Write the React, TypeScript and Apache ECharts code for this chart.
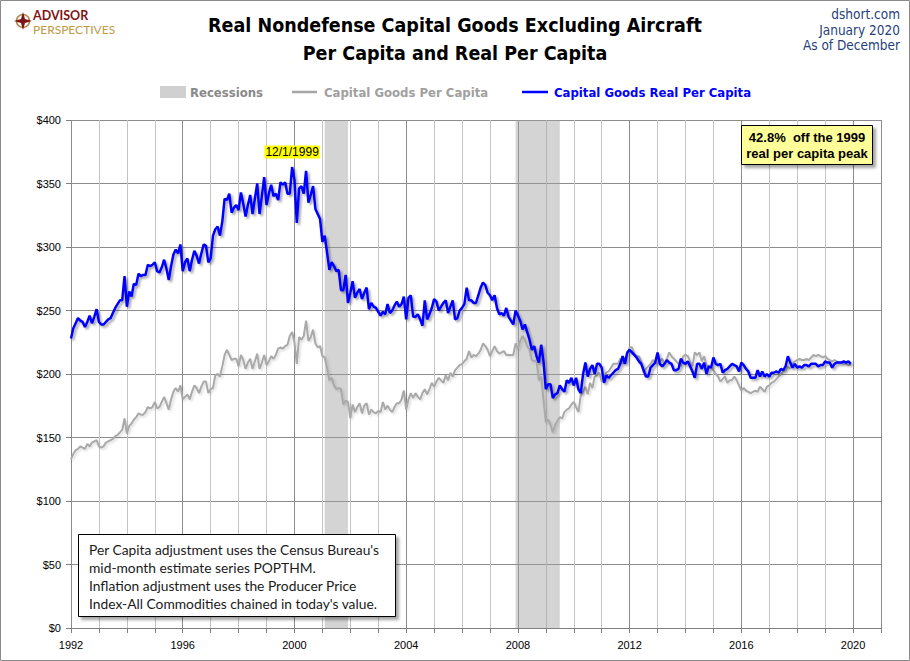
import React, { useEffect, useRef } from "react";
import * as echarts from "echarts";

const startYear = 1992;

// Capital Goods Real Per Capita (monthly, Jan 1992 - Dec 2019)
const realPerCapita = [
  228, 236, 240, 244, 242, 241, 237, 241, 246, 240, 245, 251,
  241, 239, 239, 241, 243, 244, 248, 252, 255, 258, 258, 277,
  253, 265, 261, 271, 270, 279, 277, 278, 278, 286, 285, 286,
  288, 281, 280, 284, 290, 283, 274, 285, 294, 298, 295, 302,
  281, 288, 291, 281, 290, 297, 293, 287, 295, 302, 301, 288,
  291, 309, 314, 316, 309, 320, 338, 337, 342, 327, 331, 333,
  329, 343, 334, 324, 333, 341, 326, 338, 350, 326, 340, 355,
  333, 342, 349, 340, 342, 337, 351, 349, 351, 342, 342, 363,
  353, 319, 346, 348, 342, 360, 335, 341, 348, 330, 326, 322,
  304, 309, 296, 282, 288, 285, 281, 282, 266, 266, 278, 256,
  264, 273, 260, 264, 267, 259, 264, 268, 251, 256, 253, 252,
  249, 246, 249, 247, 255, 248, 250, 254, 257, 253, 255, 261,
  243, 260, 262, 245, 245, 247, 243, 238, 258, 243, 247, 252,
  259, 257, 250, 253, 256, 258, 248, 253, 258, 243, 244, 250,
  252, 255, 268, 258, 258, 256, 256, 262, 268, 272, 270, 264,
  262, 258, 262, 252, 247, 248, 246, 252, 245, 242, 239, 250,
  246, 242, 235, 239, 233, 227, 219, 222, 214, 209, 223, 210,
  188, 192, 192, 181, 184, 185, 191, 188, 186, 195, 193, 197,
  191, 197, 188, 185, 200, 209, 198, 204, 207, 200, 208, 208,
  205, 193, 199, 197, 199, 201, 203, 204, 208, 214, 208, 217,
  219, 217, 215, 213, 210, 208, 203, 198, 198, 205, 207, 209,
  217, 208, 206, 208, 211, 209, 208, 203, 203, 204, 212, 209,
  208, 210, 206, 202, 197, 208, 208, 204, 209, 200, 206, 205,
  213, 208, 207, 208, 201, 203, 204, 206, 208, 207, 206, 202,
  209, 207, 204, 202, 197, 197, 197, 203, 198, 202, 198, 200,
  198, 201, 201, 202, 201, 204, 203, 206, 214, 209, 205, 208,
  205, 206, 205, 207, 207, 206, 208, 208, 208, 206, 207, 207,
  210, 209, 209, 205, 208, 209, 209, 209, 210, 209, 210, 208,
];

// Capital Goods Per Capita (nominal, monthly, Jan 1992 - Dec 2019)
const nominalPerCapita = [
  133, 137, 140, 141, 143, 142, 141, 145, 143, 146, 147, 148,
  143, 142, 143, 146, 147, 148, 149, 151, 152, 154, 156, 165,
  153, 159, 161, 164, 166, 169, 168, 168, 170, 174, 173, 174,
  178, 173, 174, 178, 182, 177, 172, 180, 186, 189, 186, 191,
  180, 182, 184, 180, 186, 191, 189, 185, 190, 194, 194, 185,
  188, 189, 199, 200, 198, 206, 215, 219, 215, 211, 212, 212,
  206, 215, 211, 204, 209, 212, 204, 210, 216, 204, 209, 215,
  207, 210, 214, 212, 215, 220, 221, 220, 222, 223, 230, 233,
  225, 208, 229, 227, 230, 242, 226, 229, 235, 224, 221, 222,
  214, 213, 205, 195, 197, 191, 188, 189, 188, 176, 179, 178,
  165, 176, 170, 174, 177, 169, 175, 177, 168, 172, 170, 169,
  171, 170, 178, 172, 175, 172, 170, 174, 177, 177, 180, 187,
  172, 180, 185, 181, 185, 182, 180, 185, 188, 184, 188, 193,
  190, 194, 197, 195, 193, 199, 195, 201, 198, 203, 205, 207,
  208, 210, 212, 218, 213, 215, 214, 216, 219, 224, 222, 219,
  214, 218, 222, 218, 216, 217, 218, 215, 215, 215, 215, 224,
  220, 226, 230, 227, 222, 219, 211, 210, 211, 195, 198, 180,
  162, 164, 160, 154, 160, 163, 166, 165, 170, 172, 173, 176,
  178, 174, 170, 183, 186, 190, 184, 193, 189, 198, 199, 201,
  194, 198, 201, 202, 205, 208, 208, 208, 212, 208, 212, 216,
  221, 221, 216, 214, 214, 210, 201, 204, 206, 208, 211, 209,
  208, 210, 212, 208, 212, 217, 214, 212, 210, 208, 206, 214,
  215, 214, 210, 206, 217, 215, 217, 210, 214, 207, 206, 205,
  203, 200, 198, 194, 196, 198, 193, 195, 195, 198, 195, 191,
  187, 189, 187, 186, 185, 186, 187, 186, 190, 188, 186, 190,
  191, 193, 194, 196, 198, 200, 202, 203, 206, 204, 208, 210,
  211, 212, 211, 211, 212, 211, 213, 215, 214, 215, 214, 213,
  214, 212, 211, 210, 211, 210, 209, 209, 208, 208, 207, 207,
];

// Recession periods (decimal years)
const recessionStarts = [2001.083, 2007.917];
const recessionEnds = [2001.917, 2009.5];

const titleLines = [
  "Real Nondefense Capital Goods Excluding Aircraft",
  "Per Capita and Real Per Capita",
];
const sourceLines = ["dshort.com", "January 2020", "As of December"];
const legendNames = ["Recessions", "Capital Goods Per Capita", "Capital Goods Real Per Capita"];
const peakIndex = 95;
const peakLabel = "12/1/1999";
const offPeakLines = ["42.8%  off the 1999", "real per capita peak"];
const noteLines = [
  "Per Capita adjustment uses the Census Bureau's",
  "mid-month estimate series POPTHM.",
  "Inflation adjustment uses the Producer Price",
  "Index-All Commodities chained in today's value.",
];

const NARROW = '"Liberation Sans Narrow", "DejaVu Sans Condensed", "Arial Narrow", sans-serif';
const ARIAL = '"Liberation Sans", Arial, sans-serif';

function txt(text: string, x: number, y: number, font: string, fill: string, align = "left", extra: any = {}) {
  return {
    type: "text",
    x,
    y,
    silent: true,
    style: {
      text,
      font,
      fill,
      align,
      textAlign: align,
      verticalAlign: "middle",
      textVerticalAlign: "middle",
      ...extra,
    },
  };
}

export default function App() {
  const ref = useRef<HTMLDivElement>(null);

  useEffect(() => {
    document.body.style.margin = "0";
    const chart = echarts.init(ref.current!, null, { renderer: "svg" });

    const toX = (i: number) => startYear + i / 12;
    const realData = realPerCapita.map((v, i) => [toX(i), v]);
    const nominalData = nominalPerCapita.map((v, i) => [toX(i), v]);

    const graphics: any[] = [];
    // outer frame
    graphics.push({
      type: "rect",
      silent: true,
      shape: { x: 0.5, y: 0.5, width: 909, height: 660 },
      style: { fill: "none", stroke: "#8a8a8a", lineWidth: 1 },
    });
    // logo
    graphics.push({
      type: "circle",
      silent: true,
      shape: { cx: 23, cy: 21, r: 6.5 },
      style: { fill: "none", stroke: "#b08a4a", lineWidth: 1.5 },
    });
    graphics.push({
      type: "polygon",
      silent: true,
      shape: {
        points: [
          [23, 12], [25, 19], [32, 21], [25, 23], [23, 30], [21, 23], [14, 21], [21, 19],
        ],
      },
      style: { fill: "#7f1416" },
    });
    graphics.push(txt("ADVISOR", 33, 15, "bold 12.5px Lato", "#7f1416"));
    graphics.push(txt("PERSPECTIVES", 33, 29.5, "12px Lato", "#c09a45"));
    // title
    graphics.push(txt(titleLines[0], 455, 25, "bold 19.5px " + NARROW, "#000", "center"));
    graphics.push(txt(titleLines[1], 455, 53, "bold 19.5px " + NARROW, "#000", "center"));
    // source
    sourceLines.forEach((s, i) => {
      graphics.push(txt(s, 900, 14 + i * 15.5, "13.5px " + NARROW, "#1f3f7a", "right"));
    });
    // legend
    graphics.push({
      type: "rect",
      silent: true,
      shape: { x: 160, y: 86, width: 26, height: 12 },
      style: { fill: "#d0d0d0" },
    });
    graphics.push(txt(legendNames[0], 190, 92, "bold 13px " + NARROW, "#8a8a8a"));
    graphics.push({
      type: "line",
      silent: true,
      shape: { x1: 292, y1: 92, x2: 317, y2: 92 },
      style: { stroke: "#a6a6a6", lineWidth: 2.5 },
    });
    graphics.push(txt(legendNames[1], 324, 92, "bold 13px " + NARROW, "#a0a0a0"));
    graphics.push({
      type: "line",
      silent: true,
      shape: { x1: 522, y1: 92, x2: 548, y2: 92 },
      style: { stroke: "#0000ff", lineWidth: 2.5 },
    });
    graphics.push(txt(legendNames[2], 554, 92, "bold 13px " + NARROW, "#0000ff"));
    // off-peak box
    graphics.push({
      type: "rect",
      silent: true,
      z: 100,
      shape: { x: 741.5, y: 125.5, width: 131, height: 39 },
      style: {
        fill: "#ffff99",
        stroke: "#000",
        lineWidth: 1,
        shadowColor: "rgba(0,0,0,0.35)",
        shadowBlur: 3,
        shadowOffsetX: 3,
        shadowOffsetY: 3,
      },
    });
    graphics.push({ ...txt(offPeakLines[0], 807, 137, "bold 13px " + ARIAL, "#000", "center"), z: 101 });
    graphics.push({ ...txt(offPeakLines[1], 807, 153, "bold 13px " + ARIAL, "#000", "center"), z: 101 });
    // note box
    graphics.push({
      type: "rect",
      silent: true,
      z: 100,
      shape: { x: 78.5, y: 534.5, width: 317, height: 82 },
      style: {
        fill: "#fff",
        stroke: "#000",
        lineWidth: 1,
        shadowColor: "rgba(0,0,0,0.35)",
        shadowBlur: 3,
        shadowOffsetX: 3,
        shadowOffsetY: 3,
      },
    });
    noteLines.forEach((s, i) => {
      graphics.push({ ...txt(s, 89, 549 + i * 18, "13.8px Lato", "#1a1a1a"), z: 101 });
    });

    const option: any = {
      animation: false,
      backgroundColor: "#fff",
      grid: { left: 71, right: 29, top: 120, bottom: 33, containLabel: false },
      xAxis: [
        {
          type: "value",
          min: 1992,
          max: 2021,
          interval: 1,
          position: "bottom",
          axisLine: { show: true, onZero: false, lineStyle: { color: "#808080" } },
          axisTick: { show: true, length: 5, lineStyle: { color: "#808080" } },
          axisLabel: { show: false },
          splitLine: { show: true, lineStyle: { color: "#c4c4c4", width: 1 } },
        },
        {
          type: "value",
          min: 1992,
          max: 2021,
          interval: 4,
          position: "bottom",
          axisLine: { show: false, onZero: false },
          axisTick: { show: false },
          axisLabel: {
            show: true,
            margin: 11,
            fontSize: 11,
            color: "#000",
            fontFamily: ARIAL,
            formatter: (v: number) => ((v - 1992) % 4 === 0 ? String(v) : ""),
          },
          splitLine: { show: true, lineStyle: { color: "#8c8c8c", width: 1 } },
        },
      ],
      yAxis: {
        type: "value",
        min: 0,
        max: 400,
        interval: 50,
        axisLine: { show: false },
        axisTick: { show: true, length: 5, lineStyle: { color: "#808080" } },
        axisLabel: {
          formatter: (v: number) => "$" + v,
          fontSize: 11,
          color: "#000",
          fontFamily: ARIAL,
          margin: 10,
        },
        splitLine: { show: true, lineStyle: { color: "#8c8c8c", width: 1 } },
      },
      series: [
        {
          name: legendNames[1],
          type: "line",
          xAxisIndex: 0,
          data: nominalData,
          symbol: "none",
          showSymbol: false,
          z: 2,
          lineStyle: {
            color: "#a9a9a9",
            width: 2,
            shadowColor: "rgba(0,0,0,0.15)",
            shadowBlur: 2,
            shadowOffsetX: 1.5,
            shadowOffsetY: 1.5,
          },
          markArea: {
            silent: true,
            itemStyle: { color: "rgba(160,160,160,0.45)" },
            data: recessionStarts.map((s, i) => [{ xAxis: s }, { xAxis: recessionEnds[i] }]),
          },
        },
        {
          name: legendNames[2],
          type: "line",
          xAxisIndex: 0,
          data: realData,
          symbol: "none",
          showSymbol: false,
          z: 3,
          lineStyle: {
            color: "#0000ff",
            width: 2.5,
            shadowColor: "rgba(0,0,0,0.35)",
            shadowBlur: 2,
            shadowOffsetX: 2,
            shadowOffsetY: 2,
          },
          markPoint: {
            silent: true,
            symbol: "circle",
            symbolSize: 1,
            itemStyle: { color: "rgba(0,0,0,0)" },
            data: [
              {
                coord: [toX(peakIndex), realPerCapita[peakIndex]],
                label: {
                  show: true,
                  position: "top",
                  distance: 8,
                  formatter: peakLabel,
                  color: "#000",
                  fontSize: 12,
                  fontFamily: ARIAL,
                  backgroundColor: "#ffff00",
                  padding: [1, 1, 0, 1],
                },
              },
            ],
          },
        },
      ],
      graphic: { elements: graphics },
    };

    chart.setOption(option);
    return () => chart.dispose();
  }, []);

  return <div ref={ref} style={{ width: 910, height: 661 }} />;
}
